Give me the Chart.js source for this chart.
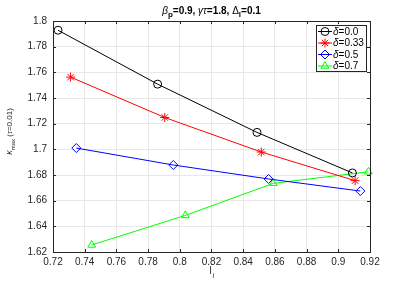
<!DOCTYPE html>
<html>
<head>
<meta charset="utf-8">
<script src="https://cdn.jsdelivr.net/npm/chart.js@4.4.1/dist/chart.umd.min.js"></script>
<style>
  html, body { margin: 0; padding: 0; background: #fff; }
  #wrap { width: 409px; height: 284px; }
</style>
</head>
<body>
<div id="wrap"><canvas id="c" width="409" height="284"></canvas></div>
<script>
// 데이터 — 그림에서 읽은 값
const xTicks = [0.72, 0.74, 0.76, 0.78, 0.8, 0.82, 0.84, 0.86, 0.88, 0.9, 0.92];
const yTicks = [1.62, 1.64, 1.66, 1.68, 1.7, 1.72, 1.74, 1.76, 1.78, 1.8];

const seriesLabels = ['δ=0.0', 'δ=0.33', 'δ=0.5', 'δ=0.7'];

const lD00 = [0.7232, 0.7860, 0.8487, 0.9089];
const kD00 = [1.7928, 1.7508, 1.7132, 1.6816];
const lD033 = [0.7311, 0.7905, 0.8514, 0.9106];
const kD033 = [1.7563, 1.7248, 1.6979, 1.6756];
const lD05 = [0.7347, 0.7959, 0.8560, 0.9139];
const kD05 = [1.7010, 1.6878, 1.6769, 1.6675];
const lD07 = [0.7444, 0.8035, 0.8590, 0.9190];
const kD07 = [1.6255, 1.6485, 1.6735, 1.6825];

const colors = ['#000000', '#ff0000', '#0000ff', '#00ff00'];
const styles = ['circle', 'star', 'rectRot', 'triangle'];
const radii = [4, 4.5, 4.5, 4.5];

const FONT = "'Liberation Sans', Arial, sans-serif";
const AX = '#262626';

function pts(xs, ys) { return xs.map((x, i) => ({ x, y: ys[i] })); }

const raw = [[lD00, kD00], [lD033, kD033], [lD05, kD05], [lD07, kD07]];
const datasets = raw.map((r, i) => ({
  label: seriesLabels[i],
  data: pts(r[0], r[1]),
  showLine: true,
  borderColor: colors[i],
  backgroundColor: 'rgba(0,0,0,0)',
  borderWidth: 1,
  pointStyle: styles[i],
  pointRadius: radii[i],
  pointBorderWidth: 1,
  pointBorderColor: colors[i],
  pointBackgroundColor: 'rgba(0,0,0,0)',
  clip: false
}));

function drawMarker(ctx, style, r, x, y, color) {
  ctx.save();
  ctx.strokeStyle = color;
  ctx.fillStyle = 'rgba(0,0,0,0)';
  ctx.lineWidth = 1;
  if (Chart.helpers && Chart.helpers.drawPoint) {
    Chart.helpers.drawPoint(ctx, { pointStyle: style, radius: r, rotation: 0, borderWidth: 1 }, x, y);
  }
  ctx.restore();
}

// MATLAB 풍 외곽선, 안쪽 눈금, 제목/축 라벨, 범례
const decor = {
  id: 'decor',
  afterDraw(chart) {
    const { ctx, chartArea: a, scales } = chart;
    ctx.save();
    ctx.strokeStyle = AX;
    ctx.lineWidth = 1;
    ctx.strokeRect(Math.round(a.left) + 0.5, Math.round(a.top) + 0.5,
      Math.round(a.right - a.left), Math.round(a.bottom - a.top));
    ctx.beginPath();
    xTicks.forEach(v => {
      const px = Math.round(scales.x.getPixelForValue(v)) + 0.5;
      ctx.moveTo(px, a.bottom); ctx.lineTo(px, a.bottom - 3);
      ctx.moveTo(px, a.top); ctx.lineTo(px, a.top + 3);
    });
    yTicks.forEach(v => {
      const py = Math.round(scales.y.getPixelForValue(v)) + 0.5;
      ctx.moveTo(a.left, py); ctx.lineTo(a.left + 3, py);
      ctx.moveTo(a.right, py); ctx.lineTo(a.right - 3, py);
    });
    ctx.stroke();

    // 제목
    const cx = (a.left + a.right) / 2;
    const parts = [
      ['β', 'italic', 0], ['p', 'bold', 1], ['=0.9, ', 'bold', 0],
      ['γτ', 'italic', 0], ['=1.8, ', 'bold', 0],
      ['Δ', 'normal', 0], ['l', 'bold', 1], ['=0.1', 'bold', 0]
    ];
    const fontFor = p => (p[1] === 'normal' ? '' : p[1] + ' ') + (p[2] ? '8px ' : '10px ') + FONT;
    let total = 0;
    parts.forEach(p => { ctx.font = fontFor(p); total += ctx.measureText(p[0]).width; });
    let x = cx - total / 2;
    ctx.fillStyle = '#000';
    ctx.textBaseline = 'alphabetic';
    ctx.textAlign = 'left';
    parts.forEach(p => {
      ctx.font = fontFor(p);
      ctx.fillText(p[0], x, p[2] ? 17 : 14);
      x += ctx.measureText(p[0]).width;
    });

    // x 축 라벨 l_i
    ctx.fillStyle = AX;
    ctx.font = '10px ' + FONT;
    ctx.fillText('l', cx - 2, 274);
    ctx.font = '7px ' + FONT;
    ctx.fillText('i', cx + 1, 278);

    // y 축 라벨 κ_max (τ=0.01)
    ctx.save();
    ctx.translate(12, (a.top + a.bottom) / 2 - 5);
    ctx.rotate(-Math.PI / 2);
    const yl = [['κ', 'italic 9px', 0], ['max', '6px', 3], [' (', '8px', 0], ['τ', 'italic 8px', 0], ['=0.01)', '8px', 0]];
    let w = 0;
    yl.forEach(p => { ctx.font = p[1] + ' ' + FONT; w += ctx.measureText(p[0]).width; });
    let yx = -w / 2;
    yl.forEach(p => {
      ctx.font = p[1] + ' ' + FONT;
      ctx.fillText(p[0], yx, p[2]);
      yx += ctx.measureText(p[0]).width;
    });
    ctx.restore();

    // 범례
    const lx = 316, ly = 25, lw = 50, lh = 46;
    ctx.fillStyle = '#fff';
    ctx.fillRect(lx, ly, lw, lh);
    ctx.strokeStyle = AX;
    ctx.strokeRect(lx + 0.5, ly + 0.5, lw, lh);
    ctx.textBaseline = 'middle';
    seriesLabels.forEach((lab, i) => {
      const yy = ly + 6.5 + i * 11.5;
      ctx.strokeStyle = colors[i];
      ctx.beginPath();
      ctx.moveTo(lx + 2, yy); ctx.lineTo(lx + 16, yy);
      ctx.stroke();
      drawMarker(ctx, styles[i], radii[i], lx + 9, yy, colors[i]);
      ctx.fillStyle = '#000';
      ctx.font = 'italic 10px ' + FONT;
      const g = lab.slice(0, 1);
      ctx.fillText(g, lx + 17, yy + 0.5);
      const gw = ctx.measureText(g).width;
      ctx.font = '10px ' + FONT;
      ctx.fillText(lab.slice(1), lx + 17 + gw, yy + 0.5);
    });
    ctx.restore();
  }
};

new Chart(document.getElementById('c'), {
  type: 'scatter',
  data: { datasets },
  plugins: [decor],
  options: {
    responsive: false,
    animation: false,
    layout: { padding: { top: 21, right: 39, left: 0, bottom: 0 } },
    plugins: { legend: { display: false }, title: { display: false }, tooltip: { enabled: false } },
    scales: {
      x: {
        type: 'linear', min: 0.72, max: 0.92,
        afterBuildTicks(s) { s.ticks = xTicks.map(v => ({ value: v })); },
        afterFit(s) { s.height = 32; },
        grid: { color: '#e8e8e8', drawTicks: false },
        border: { display: false },
        ticks: { color: AX, font: { family: FONT, size: 10 }, padding: 4, maxRotation: 0,
          callback: v => String(+v.toFixed(2)) }
      },
      y: {
        type: 'linear', min: 1.62, max: 1.8,
        afterBuildTicks(s) { s.ticks = yTicks.map(v => ({ value: v })); },
        afterFit(s) { s.width = 53; },
        grid: { color: '#e8e8e8', drawTicks: false },
        border: { display: false },
        ticks: { color: AX, font: { family: FONT, size: 10 }, padding: 6,
          callback: v => String(+v.toFixed(2)) }
      }
    }
  }
});
</script>
</body>
</html>
